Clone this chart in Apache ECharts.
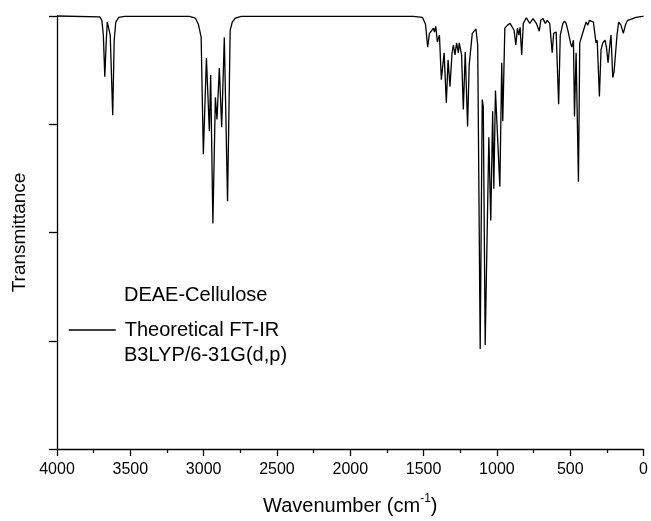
<!DOCTYPE html>
<html lang="en">
<head>
    <meta charset="UTF-8">
    <title>DEAE-Cellulose FT-IR</title>
    <script src="https://cdn.jsdelivr.net/npm/echarts@6/dist/echarts.min.js"></script>
</head>
<body style="margin:0">
<div id="chart" style="width: 651px;height:521px;"></div>

<script type="text/javascript">
    // wavenumber (cm-1), left to right
    var wavenumber = [4000, 3708, 3694, 3684, 3674, 3664, 3657, 3647, 3637, 3620, 3610, 3599, 3579, 3538,
        3097, 3056, 3036, 3017, 3002, 2981, 2961, 2952, 2937, 2920, 2909, 2893, 2877, 2859, 2837, 2819, 2805, 2784, 2744,
        1569, 1508, 1487, 1472, 1460, 1445, 1433, 1426, 1417, 1406, 1392, 1379, 1360, 1345, 1333, 1320, 1306, 1297,
        1286, 1275, 1263, 1257, 1241, 1229, 1216, 1200, 1189, 1182, 1168, 1155, 1143, 1131, 1114, 1100, 1093, 1080,
        1055, 1042, 1029, 1021, 1010, 980, 967, 960, 946, 928, 910, 897, 883, 871, 860, 851, 842, 831, 820, 799,
        776, 754, 731, 711, 701, 686, 670, 657, 640, 632, 623, 613, 596, 579, 568, 550, 539, 528, 516, 498, 489,
        478, 471, 460, 453, 444, 435, 419, 403, 392, 380, 369, 358, 342, 331, 324, 316, 301, 290, 278, 263, 253,
        242, 228, 222, 210, 201, 192, 181, 170, 154, 138, 124, 109, 88, 52, 7, 0];
    // transmittance (arb. units, 100 = baseline)
    var transmittance = [100, 99.8, 99.0, 95.6, 86.0, 94.4, 98.6, 98.6, 95.6, 77.1, 94.4, 98.6, 99.7, 99.9,
        99.9, 99.5, 98.1, 95.1, 68.1, 90.3, 73.4, 86.4, 52.1, 81.2, 76.1, 88.0, 74.3, 95.1, 57.2, 96.7, 98.6, 99.5, 99.9,
        99.9, 99.7, 98.1, 92.8, 96.0, 96.6, 97.2, 96.3, 97.6, 94.0, 95.6, 85.3, 91.5, 80.0, 89.9, 83.7, 91.5, 93.3,
        91.0, 93.8, 91.5, 93.8, 91.0, 78.4, 91.7, 74.5, 88.7, 88.5, 96.0, 96.5, 97.0, 93.3, 23.1, 80.7, 79.1, 24.0,
        72.0, 52.8, 78.0, 60.1, 82.8, 60.6, 89.2, 75.7, 97.2, 97.9, 98.3, 97.9, 96.7, 93.3, 97.2, 95.6, 97.4, 91.0, 98.3, 99.6,
        98.3, 99.4, 98.3, 96.5, 99.0, 99.4, 98.3, 99.0, 98.3, 98.1, 91.5, 96.0, 96.3, 79.6, 95.6, 98.3, 98.8, 98.3, 96.7, 93.8, 92.8,
        94.4, 76.8, 91.5, 91.7, 61.7, 93.8, 95.6, 97.4, 98.6, 97.9, 99.0, 99.4, 98.6, 95.6, 93.8, 94.4, 81.4, 92.2, 93.8, 94.4, 92.8,
        89.2, 94.0, 95.6, 85.8, 87.1, 86.9, 95.6, 98.6, 97.9, 96.0, 97.9, 99.0, 99.2, 99.7, 99.9, 100];

    var seriesName = 'Theoretical FT-IR';
    var sampleName = 'DEAE-Cellulose';
    var methodName = 'B3LYP/6-31G(d,p)';

    var points = [];
    for (var i = 0; i < wavenumber.length; i++) {
        points.push([wavenumber[i], transmittance[i]]);
    }

    var font = 'Liberation Sans, Arial, sans-serif';
    var chart = echarts.init(document.getElementById('chart'));
    var option = {
        animation: false,
        grid: {left: 57, right: 5, top: 16, bottom: 68},
        legend: {
            left: 68, top: 320, padding: 0,
            itemWidth: 47, itemHeight: 14, itemGap: 0,
            data: [seriesName],
            itemStyle: {opacity: 0},
            lineStyle: {color: '#000', width: 1.4, opacity: 1},
            textStyle: {fontFamily: font, fontSize: 20, color: '#000', padding: [0, 0, 0, 4]}
        },
        graphic: [
            {type: 'text', left: 124, top: 285, style: {text: sampleName, font: '20px ' + font, fill: '#000'}},
            {type: 'text', left: 124, top: 345, style: {text: methodName, font: '20px ' + font, fill: '#000'}}
        ],
        xAxis: {
            type: 'value', inverse: true, min: 0, max: 4000, interval: 500,
            name: '{a|Wavenumber (cm}{b|-1}{a|)}', nameLocation: 'middle', nameGap: 44,
            nameTextStyle: {
                rich: {
                    a: {fontFamily: font, fontSize: 20, color: '#000', lineHeight: 26},
                    b: {fontFamily: font, fontSize: 12, color: '#000', lineHeight: 12, verticalAlign: 'top'}
                }
            },
            axisLine: {onZero: false, lineStyle: {color: '#000', width: 1.3}},
            axisTick: {length: 7, lineStyle: {color: '#000', width: 1.3}},
            minorTick: {show: true, splitNumber: 2, length: 4, lineStyle: {color: '#000', width: 1.3}},
            splitLine: {show: false},
            axisLabel: {fontFamily: font, fontSize: 16, color: '#000', margin: 13, formatter: function (v) { return String(v); }}
        },
        yAxis: {
            type: 'value', position: 'left', min: 0, max: 100, interval: 25,
            name: 'Transmittance', nameLocation: 'middle', nameGap: 28,
            nameTextStyle: {fontFamily: font, fontSize: 19, color: '#000'},
            axisLine: {show: true, onZero: false, lineStyle: {color: '#000', width: 1.3}},
            axisTick: {show: true, length: 8, lineStyle: {color: '#000', width: 1.3}},
            splitLine: {show: false},
            axisLabel: {show: false}
        },
        series: [{
            name: seriesName,
            type: 'line',
            data: points,
            showSymbol: false,
            symbol: 'none',
            clip: false,
            itemStyle: {color: '#000'},
            lineStyle: {color: '#000', width: 1.3}
        }]
    };
    chart.setOption(option);
</script>
</body>
</html>
